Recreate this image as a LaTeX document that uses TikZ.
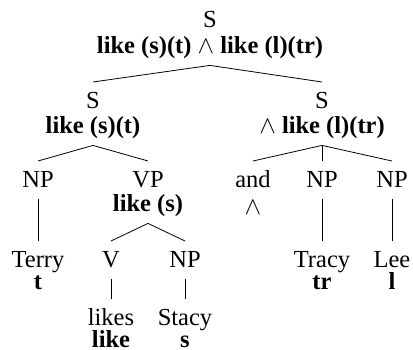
\documentclass[tikz,border=0pt]{standalone}
\usepackage{fontspec}
\setmainfont{Liberation Serif}
\newfontfamily\treefont{Liberation Serif}
\usepackage{tikz}
\newcommand{\topst}{\rule{0pt}{22pt}}
\newcommand{\botst}{\rule[-8pt]{0pt}{8pt}}
\tikzstyle{cat}=[anchor=north, align=center, inner xsep=0pt, inner ysep=4pt, font=\treefont\fontsize{24.5}{23}\selectfont]
\tikzstyle{edge}=[draw=black, line width=0.8pt]

\begin{document}
\begin{tikzpicture}[x=1pt,y=-1pt]
\useasboundingbox ( 0 , 0 ) rectangle ( 413 , 350 );
\node[cat] (rootS) at ( 210 , 1 ){\topst S\\[3pt] \textbf{like (s)(t)} $\wedge$ \textbf{like (l)(tr)}\botst};
\node[cat] (leftS) at ( 93 , 82 ){\topst S\\[2pt] \textbf{like (s)(t)}\botst};
\node[cat] (rightS) at ( 322 , 82 ){\topst S\\[2pt] $\wedge$ \textbf{like (l)(tr)}\botst};
\node[cat] (npTerry) at ( 38 , 161 ){\topst NP\botst};
\node[cat] (vp) at ( 148 , 161 ){\topst VP\\[1pt] \textbf{like (s)}\botst};
\node[cat] (andConj) at ( 253 , 161 ){\topst and\\[4pt] $\wedge$\botst};
\node[cat] (npTracy) at ( 322 , 161 ){\topst NP\botst};
\node[cat] (npLee) at ( 392 , 161 ){\topst NP\botst};
\node[cat] (terry) at ( 38 , 241 ){\topst Terry\\[-1pt] \textbf{t}\botst};
\node[cat] (v) at ( 111 , 241 ){\topst V\botst};
\node[cat] (npStacy) at ( 185 , 241 ){\topst NP\botst};
\node[cat] (tracy) at ( 322 , 241 ){\topst Tracy\\[-1pt] \textbf{tr}\botst};
\node[cat] (lee) at ( 392 , 241 ){\topst Lee\\[-1pt] \textbf{l}\botst};
\node[cat] (likes) at ( 111 , 299 ){\topst likes\\[-1pt] \textbf{like}};
\node[cat] (stacy) at ( 185 , 299 ){\topst Stacy\\[-1pt] \textbf{s}};
\draw[edge] (rootS.south)--(leftS.north);
\draw[edge] (rootS.south)--(rightS.north);
\draw[edge] (leftS.south)--(npTerry.north);
\draw[edge] (leftS.south)--(vp.north);
\draw[edge] (rightS.south)--(andConj.north);
\draw[edge] (rightS.south)--(npTracy.north);
\draw[edge] (rightS.south)--(npLee.north);
\draw[edge] (npTerry.south)--(terry.north);
\draw[edge] (vp.south)--(v.north);
\draw[edge] (vp.south)--(npStacy.north);
\draw[edge] (npTracy.south)--(tracy.north);
\draw[edge] (npLee.south)--(lee.north);
\draw[edge] (v.south)--(likes.north);
\draw[edge] (npStacy.south)--(stacy.north);
\end{tikzpicture}
\end{document}
